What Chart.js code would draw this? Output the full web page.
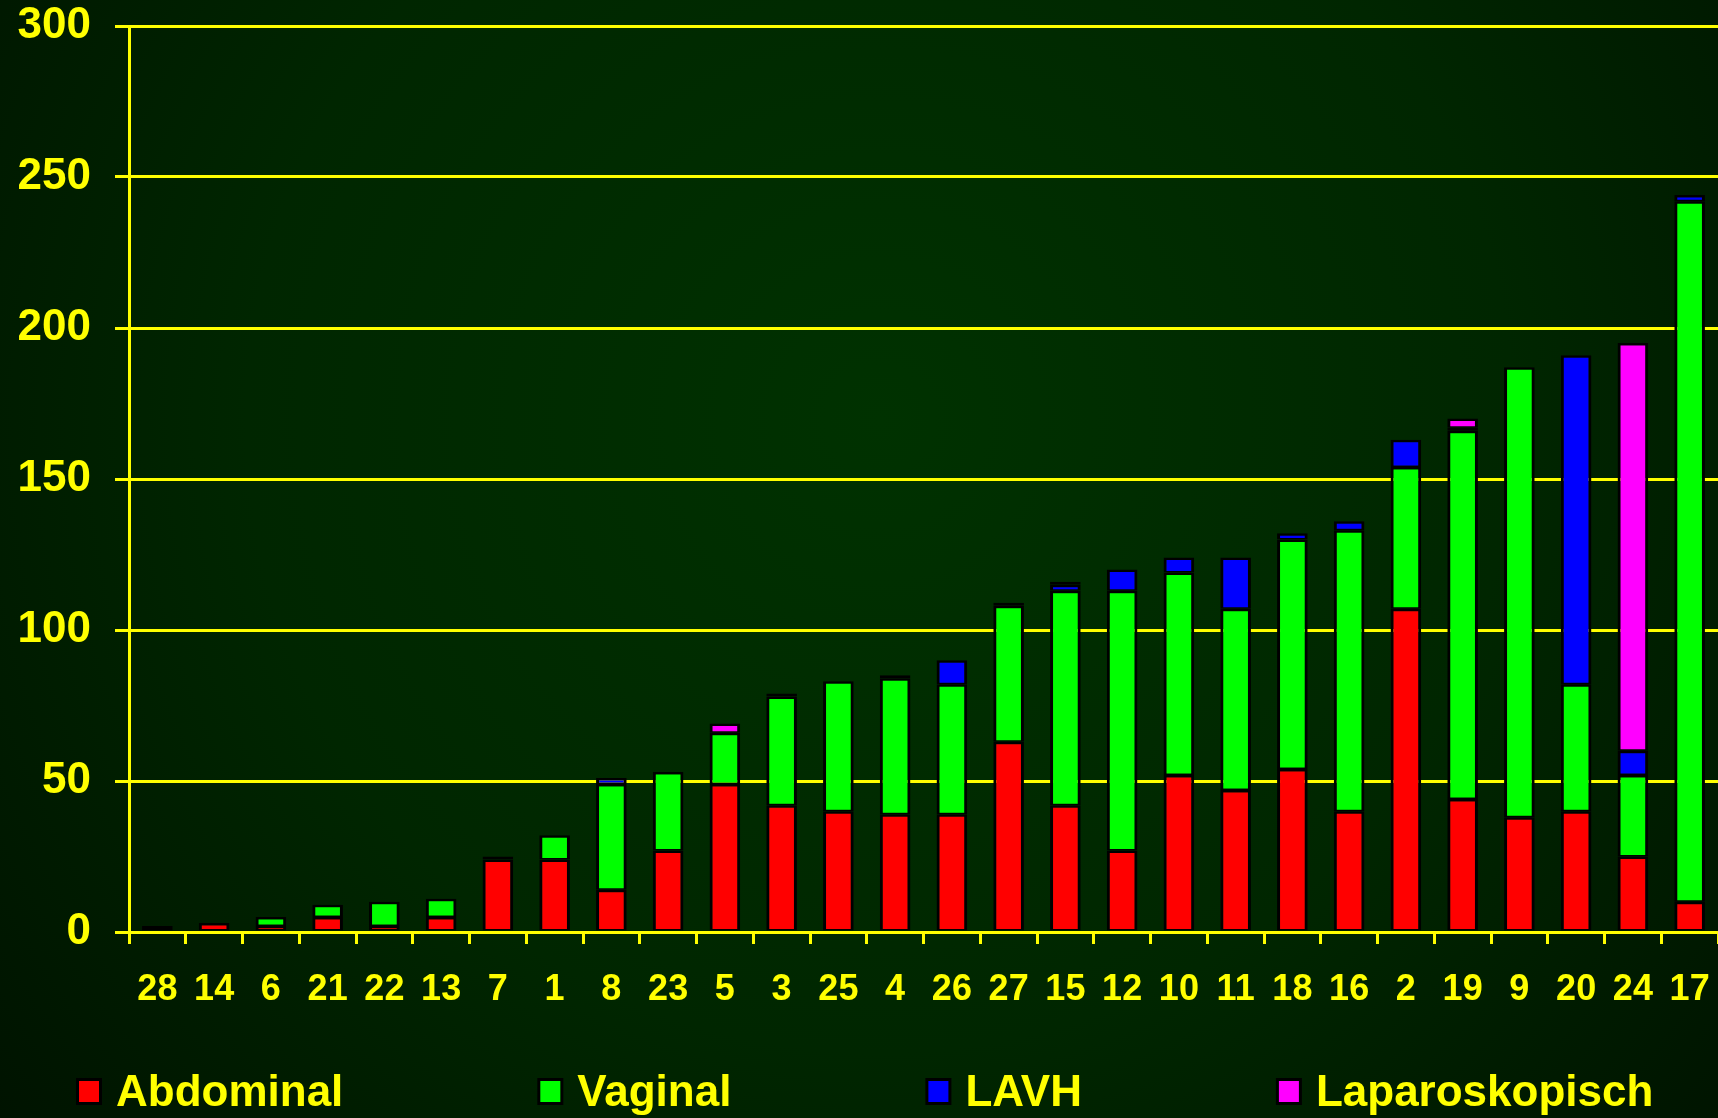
<!DOCTYPE html>
<html>
<head>
<meta charset="utf-8">
<title>Hysterectomie per ziekenhuis</title>
<script src="https://cdn.jsdelivr.net/npm/chart.js@4.4.1/dist/chart.umd.min.js"></script>
<style>
  html, body { margin: 0; padding: 0; background: #001a00; }
  #wrap { width: 1718px; height: 1118px; position: relative; }
</style>
</head>
<body>
<div id="wrap"><canvas id="chart" width="1718" height="1118"></canvas></div>
<script>
// hospital numbers, sorted by total
const hospitals = ['28', '14', '6', '21', '22', '13', '7', '1', '8', '23', '5', '3', '25', '4',
    '26', '27', '15', '12', '10', '11', '18', '16', '2', '19', '9', '20', '24', '17'];

const abdominal = [1, 3, 2, 5, 2, 5, 24, 24, 14, 27, 49, 42, 40, 39,
    39, 63, 42, 27, 52, 47, 54, 40, 107, 44, 38, 40, 25, 10];
const vaginal = [0, 0, 3, 4, 8, 6, 0, 8, 35, 26, 17, 36, 43, 45,
    43, 45, 71, 86, 67, 60, 76, 93, 47, 122, 149, 42, 27, 232];
const lavh = [1, 0, 0, 0, 0, 0, 1, 0, 2, 0, 0, 1, 0, 1,
    8, 1, 2, 7, 5, 17, 2, 3, 9, 1, 0, 109, 8, 2];
const laparoskopisch = [0, 0, 0, 0, 0, 0, 0, 0, 0, 0, 3, 0, 0, 0,
    0, 0, 1, 0, 0, 0, 0, 0, 0, 3, 0, 0, 135, 0];

const yTicks = [0, 50, 100, 150, 200, 250, 300];

const FONT = '"Liberation Sans", Arial, sans-serif';
const YELLOW = '#ffff00';

const seriesDefs = [
    { label: 'Abdominal', data: abdominal, color: '#ff0000' },
    { label: 'Vaginal', data: vaginal, color: '#00ff00' },
    { label: 'LAVH', data: lavh, color: '#0000ff' },
    { label: 'Laparoskopisch', data: laparoskopisch, color: '#ff00ff' }
];

const backgroundPlugin = {
    id: 'slideBackground',
    beforeDraw(chart) {
        const { ctx, width, height } = chart;
        const g = ctx.createRadialGradient(880, 420, 0, 880, 420, 1150);
        g.addColorStop(0, '#003200');
        g.addColorStop(0.55, '#002600');
        g.addColorStop(1, '#001200');
        ctx.save();
        ctx.fillStyle = g;
        ctx.fillRect(0, 0, width, height);
        ctx.restore();
    }
};

const legendPlugin = {
    id: 'bottomLegend',
    afterDraw(chart) {
        const ctx = chart.ctx;
        ctx.save();
        ctx.font = `bold 44px ${FONT}`;
        ctx.textBaseline = 'alphabetic';
        let x = 76;
        const baseline = 1106;
        chart.data.datasets.forEach(ds => {
            ctx.fillStyle = '#000000';
            ctx.fillRect(x, 1078, 26, 27);
            ctx.fillStyle = ds.backgroundColor;
            ctx.fillRect(x + 3, 1081, 20, 21);
            ctx.fillStyle = YELLOW;
            ctx.fillText(ds.label, x + 40, baseline);
            x += 40 + ctx.measureText(ds.label).width + 194;
        });
        ctx.restore();
    }
};

new Chart(document.getElementById('chart'), {
    type: 'bar',
    data: {
        labels: hospitals,
        datasets: seriesDefs.map(s => ({
            label: s.label,
            data: s.data,
            backgroundColor: s.color,
            borderColor: '#000000',
            borderWidth: { top: 2.5, bottom: 1.5, left: 3, right: 3 },
            borderSkipped: false,
            barPercentage: 0.54,
            categoryPercentage: 1
        }))
    },
    options: {
        responsive: false,
        animation: false,
        layout: { padding: { top: 26, right: 0, bottom: 0, left: 0 } },
        plugins: {
            legend: { display: false },
            tooltip: { enabled: false }
        },
        scales: {
            x: {
                stacked: true,
                offset: true,
                grid: {
                    offset: true,
                    drawOnChartArea: false,
                    drawTicks: true,
                    tickLength: 12,
                    color: YELLOW,
                    lineWidth: 3
                },
                border: { color: YELLOW, width: 3 },
                ticks: {
                    color: YELLOW,
                    font: { family: FONT, size: 36, weight: 'bold' },
                    padding: 24,
                    autoSkip: false,
                    maxRotation: 0
                },
                afterFit: scale => {
                    scale.height = 186;
                    scale.paddingLeft = 0;
                    scale.paddingRight = 0;
                }
            },
            y: {
                stacked: true,
                min: yTicks[0],
                max: yTicks[yTicks.length - 1],
                afterBuildTicks: scale => { scale.ticks = yTicks.map(v => ({ value: v })); },
                grid: {
                    color: YELLOW,
                    lineWidth: 3,
                    tickLength: 14
                },
                border: { color: YELLOW, width: 3 },
                ticks: {
                    color: YELLOW,
                    font: { family: FONT, size: 44, weight: 'bold' },
                    padding: 24
                },
                afterFit: scale => {
                    scale.width = 129;
                    scale.paddingTop = 0;
                    scale.paddingBottom = 0;
                }
            }
        }
    },
    plugins: [backgroundPlugin, legendPlugin]
});
</script>
</body>
</html>
